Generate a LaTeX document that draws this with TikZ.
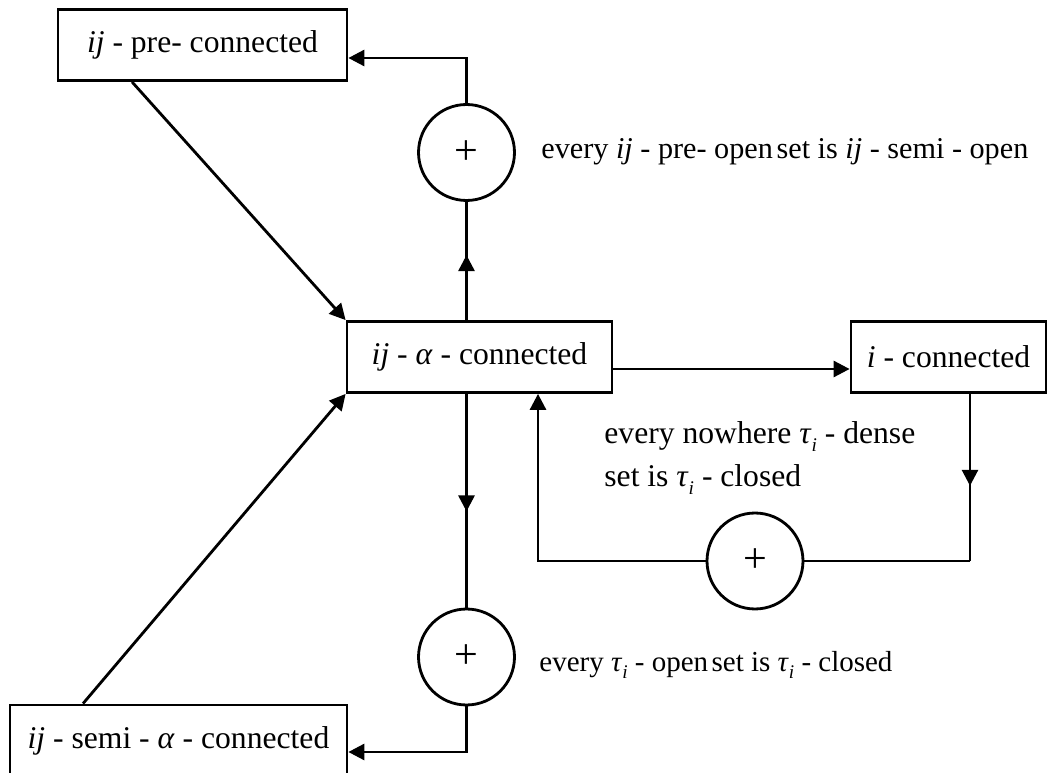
\documentclass[tikz,border=0pt]{standalone}
\usepackage{fontspec}
\setmainfont{Liberation Serif}
\usetikzlibrary{arrows.meta,decorations.markings}
\tikzset{
  box/.style={draw,minimum height=1.42cm,inner sep=0pt},
  plus/.style={draw,circle,minimum size=1.92cm,inner sep=0pt,font=\fontsize{24}{26}\selectfont},
  arr/.style={-{Triangle[length=0.32cm,width=0.32cm]}},
  midarr/.style={postaction={decorate},decoration={markings,
    mark=at position 0.55 with {\arrow{Triangle[length=0.32cm,width=0.32cm]}}}},
  lbl/.style={anchor=west,inner sep=0pt}
}
\newcommand{\subi}{\raisebox{-0.55ex}{\fontsize{11}{12}\selectfont\textit{i}}}

\begin{document}
\begin{tikzpicture}[x=0.02cm,y=-0.02cm,line width=1.6pt,font=\fontsize{18}{21}\selectfont]
\useasboundingbox (0,0) rectangle (1052,773);
  \node[box,minimum width=5.78cm] (pre) at (202.5,45) {\textit{ij} - pre- connected};
  \node[box,minimum width=5.3cm] (alpha) at (479.5,357) {\textit{ij} - \textit{α} - connected};
  \node[box,minimum width=3.9cm] (icon) at (948.5,357) {\textit{i} - connected};
  \node[box,minimum width=6.74cm] (semi) at (178.5,740.5) {\textit{ij} - semi - \textit{α} - connected};
  \node[plus] (plusA) at (466.5,152.5) {+};
  \node[plus] (plusB) at (755,561) {+};
  \node[plus] (plusC) at (466.5,657) {+};
  \node[lbl,font=\fontsize{17.2}{20}\selectfont] (txtA) at (540,152) {every \textit{ij} - pre- open\hspace{0.12em}set is \textit{ij} - semi - open};
  \node[lbl] (txtB) at (603,437) {every nowhere \textit{τ}\subi{} - dense};
  \node[lbl] (txtC) at (603,480) {set is \textit{τ}\subi{} - closed};
  \node[lbl,font=\fontsize{16.5}{20}\selectfont] (txtD) at (538,665) {every \textit{τ}\subi{} - open\hspace{0.12em}set is \textit{τ}\subi{} - closed};
  \coordinate (cA) at (466.5,58);
  \coordinate (cC) at (466.5,752);
  \coordinate (cR) at (970,561);
  \coordinate (cL) at (538,561);
%  up: alpha -> plus -> pre
  \draw[midarr] (alpha.north -| plusA) -- (plusA.south);
  \draw[arr] (plusA.north) -- (cA) -- (pre.east |- cA);
%  down: alpha -> plus -> semi
  \draw[midarr] (alpha.south -| plusC) -- (plusC.north);
  \draw[arr] (plusC.south) -- (cC) -- (semi.east |- cC);
%  right loop
  \draw[arr] (alpha.east |- 0,369) -- (icon.west |- 0,369);
  \draw[midarr] (icon.south -| cR) -- (cR);
  \draw (cR) -- (plusB.east);
  \draw[arr] (plusB.west) -- (cL) -- (alpha.south -| cL);
%  diagonals
  \draw[arr] (pre.south -| 132,0) -- (alpha.north west);
  \draw[arr] (semi.north -| 83,0) -- (alpha.south west);
\end{tikzpicture}
\end{document}
